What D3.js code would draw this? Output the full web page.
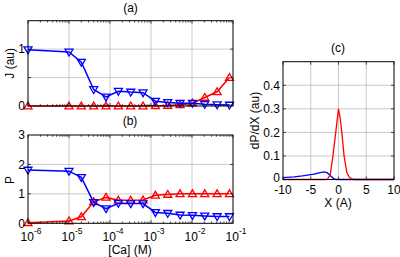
<!DOCTYPE html>
<html><head><meta charset="utf-8">
<script src="https://cdn.jsdelivr.net/npm/d3@7"></script>
<style>body{margin:0;background:#fff}svg{display:block;font-family:"Liberation Sans",Arial,sans-serif}</style>
</head><body><svg id="c" width="400" height="257"></svg>
<script>
const conc = [1e-6, 1e-5, 2e-5, 4e-5, 8e-5, 1.6e-4, 3.2e-4, 6.4e-4, 1.28e-3, 2.56e-3, 5.12e-3, 1.024e-2, 2.048e-2, 4.096e-2, 8.192e-2];
const jBlue = [0.99, 0.95, 0.77, 0.29, 0.16, 0.26, 0.245, 0.235, 0.085, 0.063, 0.05, 0.05, 0.03, 0.022, 0.017];
const jRed  = [0, 0, 0, 0, 0, 0, 0, 0, 0.005, 0.01, 0.02, 0.05, 0.15, 0.25, 0.5];
const pBlue = [1.81, 1.77, 1.56, 0.71, 0.5, 0.68, 0.67, 0.67, 0.37, 0.34, 0.28, 0.27, 0.25, 0.23, 0.23];
const pRed  = [0.02, 0.08, 0.22, 0.73, 0.88, 0.78, 0.78, 0.79, 0.95, 0.98, 1.0, 1.0, 1.0, 1.0, 1.0];
const redX  = [-10, -8, -6, -4, -2.5, -2, -1.5, -1, -0.5, 0, 0.3, 0.6, 1, 1.5, 2, 2.5, 3, 5, 10];
const redV  = [0, 0, 0, 0, 0, 0.001, 0.02, 0.1, 0.2, 0.3, 0.26, 0.2, 0.1, 0.03, 0.008, 0.002, 0, 0, 0];
const blueX = [-10, -8, -6.5, -4.4, -3.5, -2.6, -2, -1.4, -0.8, -0.3, 2, 5, 10];
const blueV = [0.008, 0.011, 0.015, 0.023, 0.028, 0.032, 0.028, 0.015, 0.003, 0, 0, 0, 0];
const concTicks = [-6, -5, -4, -3, -2, -1];
const jTicks = [0, 1], jGrid = [0.5, 1];
const pTicks = [0, 1, 2, 3];
const cXTicks = [-10, -5, 0, 5, 10];
const cYTicks = [0, 0.1, 0.2, 0.3, 0.4];

const svg = d3.select("#c");
const BLUE = "#0000ff", RED = "#ff0000", GRID = "#b4b4b4";
const FS = 12;

const xLog = d3.scaleLog().domain([1e-6, 1e-1]).range([28, 233]);
const yJ = d3.scaleLinear().domain([0, 1.5]).range([106, 20.7]);
const yP = d3.scaleLinear().domain([0, 3]).range([223.3, 135]);
const xC = d3.scaleLinear().domain([-10, 10]).range([283, 394]);
const yC = d3.scaleLinear().domain([0, 0.5]).range([179.5, 61.7]);

function frame(x, y, xgrid, ygrid) {
  const g = svg.append("g");
  const [x0, x1] = x.range(), [y0, y1] = y.range();
  xgrid.forEach(v => g.append("line").attr("x1", x(v)).attr("x2", x(v)).attr("y1", y0).attr("y2", y1).attr("stroke", GRID).attr("stroke-width", 0.7));
  ygrid.forEach(v => g.append("line").attr("y1", y(v)).attr("y2", y(v)).attr("x1", x0).attr("x2", x1).attr("stroke", GRID).attr("stroke-width", 0.7));
  return g;
}
function box(x, y) {
  const [x0, x1] = x.range(), [y0, y1] = y.range();
  svg.append("rect").attr("x", x0).attr("y", y1).attr("width", x1 - x0).attr("height", y0 - y1)
    .attr("fill", "none").attr("stroke", "#000").attr("stroke-width", 1);
}
function logTicks(x, y) {
  const [y0, y1] = y.range();
  const g = svg.append("g").attr("stroke", "#000").attr("stroke-width", 0.7);
  for (let e = -6; e < -1 + 0.5; e++) {
    for (let m = 1; m <= 9; m++) {
      const v = m * Math.pow(10, e);
      if (v > 0.1 * 1.0001) continue;
      const L = m === 1 ? 3 : 1.8;
      g.append("line").attr("x1", x(v)).attr("x2", x(v)).attr("y1", y0).attr("y2", y0 - L);
      g.append("line").attr("x1", x(v)).attr("x2", x(v)).attr("y1", y1).attr("y2", y1 + L);
    }
  }
}
function yTickMarks(x, y, vals) {
  const [x0, x1] = x.range();
  const g = svg.append("g").attr("stroke", "#000").attr("stroke-width", 0.7);
  vals.forEach(v => {
    g.append("line").attr("x1", x0).attr("x2", x0 + 3).attr("y1", y(v)).attr("y2", y(v));
    g.append("line").attr("x1", x1).attr("x2", x1 - 3).attr("y1", y(v)).attr("y2", y(v));
  });
}
function yLabels(x, y, vals, fmt, zeroShift) {
  vals.forEach(v => svg.append("text").attr("x", x.range()[0] - 3).attr("y", y(v) + 4.3 - (v === 0 ? (zeroShift || 0) : 0))
    .attr("text-anchor", "end").attr("font-size", FS).text(fmt(v)));
}
const tri = (up) => up ? "M0,-4L4,2.8L-4,2.8Z" : "M0,4L4,-2.8L-4,-2.8Z";
function series(x, y, xs, ys, color, up) {
  const pts = xs.map((v, i) => [v, ys[i]]);
  svg.append("path").attr("d", d3.line().x(d => x(d[0])).y(d => y(d[1]))(pts))
    .attr("fill", "none").attr("stroke", color).attr("stroke-width", 1.5);
  svg.append("g").selectAll("path").data(pts).join("path")
    .attr("transform", d => `translate(${x(d[0])},${y(d[1])})`)
    .attr("d", tri(up)).attr("fill", "none").attr("stroke", color).attr("stroke-width", 1.3);
}

// Panel (a)
frame(xLog, yJ, [1e-5, 1e-4, 1e-3, 1e-2], jGrid);
series(xLog, yJ, conc, jRed, RED, true);
series(xLog, yJ, conc, jBlue, BLUE, false);
box(xLog, yJ); logTicks(xLog, yJ); yTickMarks(xLog, yJ, [0.5, 1]);
yLabels(xLog, yJ, jTicks, d => d);
svg.append("text").attr("x", 130.5).attr("y", 12).attr("text-anchor", "middle").attr("font-size", FS).text("(a)");
svg.append("text").attr("transform", `translate(13.5,${(20.7 + 106) / 2 + 0}) rotate(-90)`).attr("text-anchor", "middle").attr("font-size", FS).text("J (au)");

// Panel (b)
frame(xLog, yP, [1e-5, 1e-4, 1e-3, 1e-2], [1, 2]);
series(xLog, yP, conc, pRed, RED, true);
series(xLog, yP, conc, pBlue, BLUE, false);
box(xLog, yP); logTicks(xLog, yP); yTickMarks(xLog, yP, [1, 2]);
yLabels(xLog, yP, pTicks, d => d);
svg.append("text").attr("x", 130).attr("y", 125).attr("text-anchor", "middle").attr("font-size", FS).text("(b)");
svg.append("text").attr("transform", `translate(14,180) rotate(-90)`).attr("text-anchor", "middle").attr("font-size", FS).text("P");
concTicks.forEach(e => {
  const t = svg.append("text").attr("x", xLog(Math.pow(10, e)) + 3).attr("y", 241).attr("text-anchor", "middle").attr("font-size", FS);
  t.append("tspan").text("10");
  t.append("tspan").attr("dy", -7).attr("font-size", 8.5).text(e);
});
svg.append("text").attr("x", 130).attr("y", 254).attr("text-anchor", "middle").attr("font-size", FS).text("[Ca] (M)");

// Panel (c)
frame(xC, yC, [-5, 0, 5], [0.1, 0.2, 0.3, 0.4]);
const lineC = d3.line().x(d => xC(d[0])).y(d => yC(d[1]));
svg.append("path").attr("d", lineC(blueX.map((v, i) => [v, blueV[i]]))).attr("fill", "none").attr("stroke", BLUE).attr("stroke-width", 1.3);
svg.append("path").attr("d", lineC(redX.map((v, i) => [v, redV[i]]))).attr("fill", "none").attr("stroke", RED).attr("stroke-width", 1.3);
box(xC, yC);
{
  const g = svg.append("g").attr("stroke", "#000").attr("stroke-width", 0.7);
  cXTicks.forEach(v => {
    g.append("line").attr("x1", xC(v)).attr("x2", xC(v)).attr("y1", 179.5).attr("y2", 176.5);
    g.append("line").attr("x1", xC(v)).attr("x2", xC(v)).attr("y1", 61.7).attr("y2", 64.7);
  });
}
yTickMarks(xC, yC, [0.1, 0.2, 0.3, 0.4]);
yLabels(xC, yC, cYTicks, d => d === 0 ? "0" : d3.format(".1f")(d), 1.8);
cXTicks.forEach(v => svg.append("text").attr("x", xC(v)).attr("y", 193.8).attr("text-anchor", "middle").attr("font-size", FS).text(v));
svg.append("text").attr("x", 338).attr("y", 52).attr("text-anchor", "middle").attr("font-size", FS).text("(c)");
svg.append("text").attr("x", 338).attr("y", 207).attr("text-anchor", "middle").attr("font-size", FS).text("X (A)");
svg.append("text").attr("transform", `translate(259,120.5) rotate(-90)`).attr("text-anchor", "middle").attr("font-size", FS).text("dP/dX (au)");
</script></body></html>
